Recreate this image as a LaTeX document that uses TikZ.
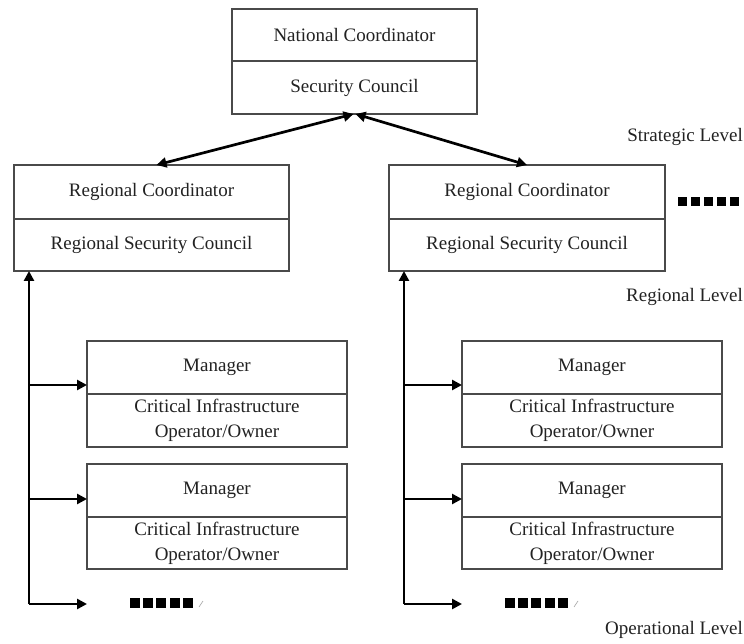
\documentclass[tikz,border=0pt]{standalone}
\usepackage{fontspec}
\setmainfont{Liberation Serif}
\usetikzlibrary{arrows.meta,calc}
\definecolor{boxgray}{HTML}{4A4A4A}
\definecolor{textcol}{HTML}{222222}
\begin{document}
\begin{tikzpicture}[x=1pt,y=-1pt,
  part/.style={draw=boxgray, line width=1.2pt, inner sep=0pt, outer sep=0pt,
    align=center, text=textcol, font=\fontsize{19}{25}\selectfont},
  lvl/.style={anchor=east, inner sep=0pt, text=textcol, font=\fontsize{19}{23}\selectfont},
  arr/.style={draw=black, line width=2.7pt, -{Triangle[length=10pt,width=10pt]}},
  darr/.style={draw=black, line width=2.7pt, {Triangle[length=10pt,width=10pt]}-{Triangle[length=10pt,width=10pt]}},
  sq/.style={fill=black}
]
\fill[white] (0,0) rectangle (744,644);
\useasboundingbox (0,0) rectangle (744,644);

% national level
\node[part, minimum width=245pt, minimum height=52pt, anchor=north west] (nc) at (232,9) {National Coordinator};
\node[part, minimum width=245pt, minimum height=53pt, anchor=north] (sc) at (nc.south) {Security Council};

% regional level
\node[part, minimum width=275pt, minimum height=54pt, anchor=north west] (rc1) at (14,165) {Regional Coordinator};
\node[part, minimum width=275pt, minimum height=52pt, anchor=north] (rs1) at (rc1.south) {Regional Security Council};
\node[part, minimum width=276pt, minimum height=54pt, anchor=north west] (rc2) at (389,165) {Regional Coordinator};
\node[part, minimum width=276pt, minimum height=52pt, anchor=north] (rs2) at (rc2.south) {Regional Security Council};

% operational level, left
\node[part, minimum width=260pt, minimum height=53pt, anchor=north west] (m1a) at (87,341) {Manager};
\node[part, minimum width=260pt, minimum height=53pt, anchor=north] (o1a) at (m1a.south) {Critical Infrastructure\\Operator/Owner};
\node[part, minimum width=260pt, minimum height=53pt, anchor=north west] (m1b) at (87,464) {Manager};
\node[part, minimum width=260pt, minimum height=52pt, anchor=north] (o1b) at (m1b.south) {Critical Infrastructure\\Operator/Owner};

% operational level, right
\node[part, minimum width=260pt, minimum height=53pt, anchor=north west] (m2a) at (462,341) {Manager};
\node[part, minimum width=260pt, minimum height=53pt, anchor=north] (o2a) at (m2a.south) {Critical Infrastructure\\Operator/Owner};
\node[part, minimum width=260pt, minimum height=53pt, anchor=north west] (m2b) at (462,464) {Manager};
\node[part, minimum width=260pt, minimum height=52pt, anchor=north] (o2b) at (m2b.south) {Critical Infrastructure\\Operator/Owner};

% level labels
\node[lvl] (lstr) at (743,137) {Strategic Level};
\node[lvl] (lreg) at (743,297) {Regional Level};
\node[lvl] (lop) at (743,630) {Operational Level};

% national <-> regional
\draw[darr] ([xshift=-1pt]sc.south) -- ([xshift=5pt]rc1.north);
\draw[darr] ([xshift=1pt]sc.south) -- (rc2.north);

% left trunk
\coordinate (L0) at ([xshift=15pt]rs1.south west);
\coordinate (L1) at (L0 |- 0,385);
\coordinate (L2) at (L0 |- 0,499);
\coordinate (L3) at (L0 |- 0,604);
\coordinate (L3e) at (87,604);
\draw[arr] (L3) -- (L0);
\draw[arr] (L1) -- (L1 -| m1a.west);
\draw[arr] (L2) -- (L2 -| m1b.west);
\draw[arr] (L3) -- (L3e);

% right trunk
\coordinate (R0) at ([xshift=15pt]rs2.south west);
\coordinate (R1) at (R0 |- 0,385);
\coordinate (R2) at (R0 |- 0,499);
\coordinate (R3) at (R0 |- 0,604);
\coordinate (R3e) at (462,604);
\draw[arr] (R3) -- (R0);
\draw[arr] (R1) -- (R1 -| m2a.west);
\draw[arr] (R2) -- (R2 -| m2b.west);
\draw[arr] (R3) -- (R3e);

% continuation marks
\foreach \i in {0,...,4} {
  \fill[sq] (678+\i*13,197) rectangle ++(9,9);
  \fill[sq] (130+\i*13.2,598) rectangle ++(10,10);
  \fill[sq] (505+\i*13.2,598) rectangle ++(10,10);
}
\draw[gray!70, line width=0.6pt] (199,607) -- (203,601);
\draw[gray!70, line width=0.6pt] (574,607) -- (578,601);
\end{tikzpicture}
\end{document}
